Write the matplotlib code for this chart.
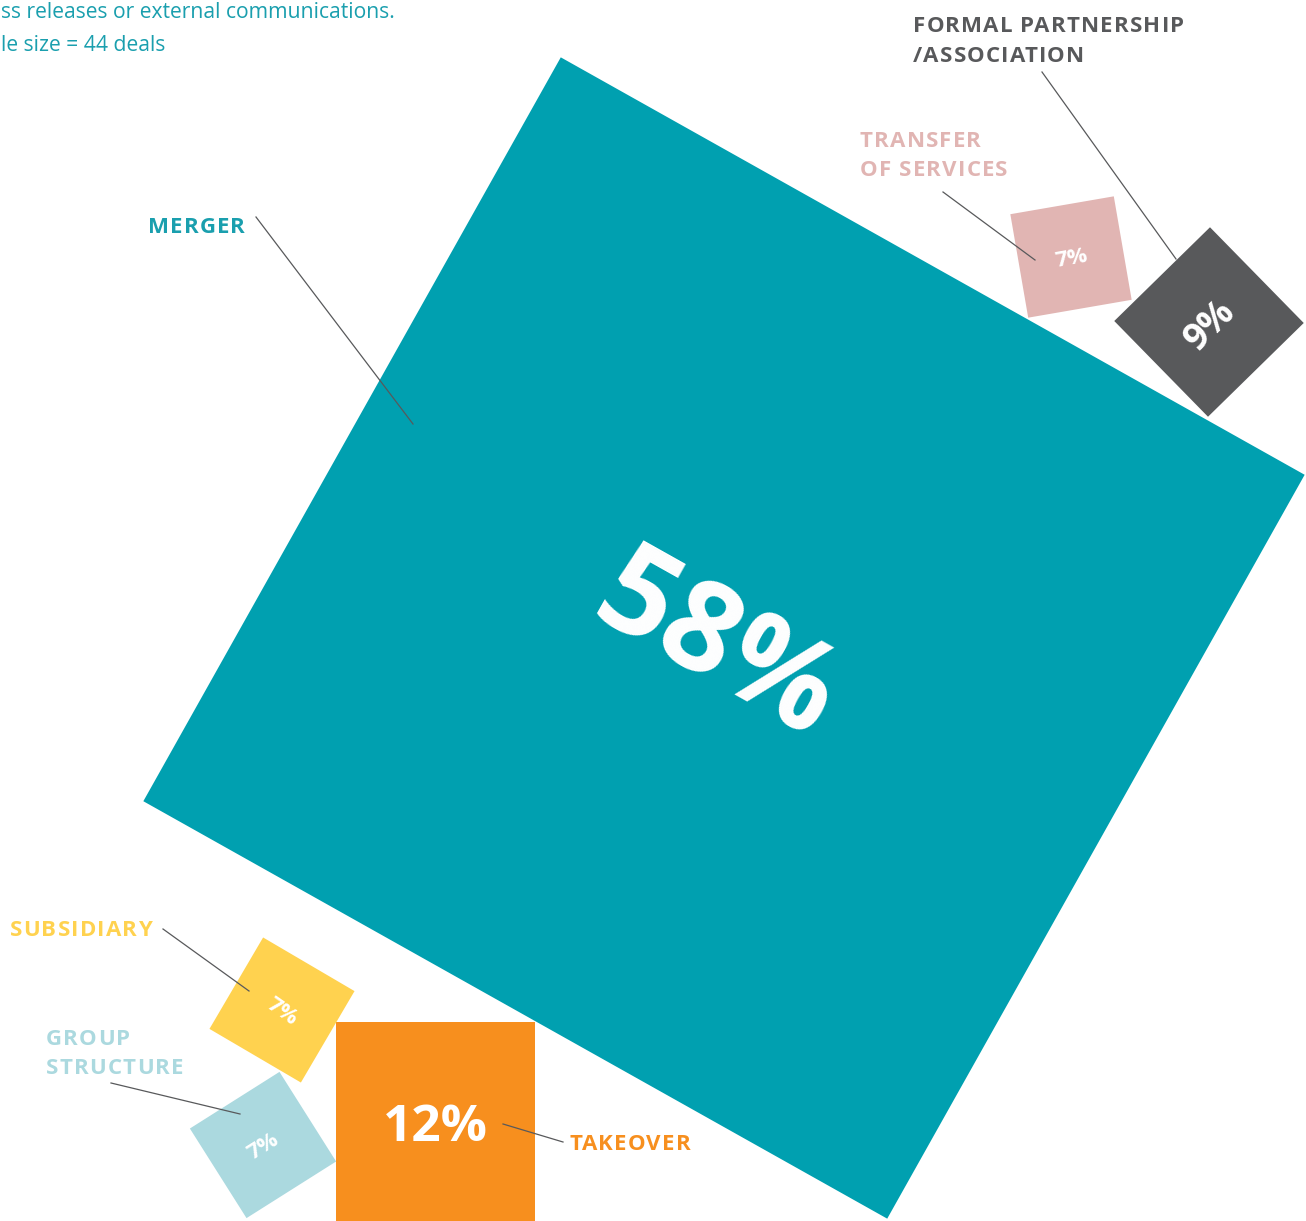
import matplotlib.pyplot as plt
import numpy as np

# deal types and their share of deals (%)
categories = ['MERGER', 'TAKEOVER', 'FORMAL PARTNERSHIP\n/ASSOCIATION',
              'TRANSFER\nOF SERVICES', 'SUBSIDIARY', 'GROUP\nSTRUCTURE']
shares = [58, 12, 9, 7, 7, 7]
colors = ['#00A0B0', '#F78F1E', '#58595B', '#E1B5B3', '#FFD24F', '#ABD9DF']
label_colors = ['#1A9FAE', '#F78F1E', '#58595B', '#E1B5B3', '#FFD24F', '#ABD9DF']
note_lines = ['ss releases or external communications.', 'le size = 44 deals']

# layout (pixel space, y pointing down)
centers = [(724, 638), (435.5, 1121.5), (1209, 322), (1071, 257), (282, 1010), (263, 1145)]
sides = [853, 199, 134, 105, 106, 106]
angles = [29.3, 0, 45.6, -9.8, 30.4, -32.3]          # clockwise, degrees
text_xy = [(716, 650), (435, 1128), (1210, 325), (1071, 259), (282, 1012), (263, 1147)]
text_rot = [-29.3, 0, 45, 10, -35, 32]
text_size = [90, 37, 27, 16, 16, 16]
label_xy = [(148, 233), (569, 1150), (913, 32), (860, 147), (10, 936), (46, 1045)]
leaders = [((256, 217), (413, 424)), ((503, 1124), (563, 1142)),
           ((1042, 72), (1176, 259)), ((943, 192), (1035, 260)),
           ((163, 929), (249, 991)), ((111, 1083), (240, 1114))]

plt.rcParams['font.family'] = ['Open Sans', 'DejaVu Sans']

fig = plt.figure(figsize=(13.06, 12.21), dpi=100)
ax = fig.add_axes([0, 0, 1, 1])
ax.set_xlim(0, 1306)
ax.set_ylim(1221, 0)
ax.axis('off')
renderer = fig.canvas.get_renderer()


def square(c, s, a):
    t = np.radians(a)
    rot = np.array([[np.cos(t), -np.sin(t)], [np.sin(t), np.cos(t)]])
    pts = np.array([[-1, -1], [1, -1], [1, 1], [-1, 1]]) * s / 2
    return pts @ rot.T + np.array(c)


def tracked_text(x, y, s, spacing, **kw):
    # letter-spaced text: each glyph placed at the right edge of its prefix
    probe = ax.text(0, 0, '', **kw)
    for k, ch in enumerate(s):
        if ch == ' ':
            continue
        probe.set_text(s[:k + 1])
        w = probe.get_window_extent(renderer).width
        ax.text(x + w + k * spacing, y, ch, ha='right', va='baseline', **kw)
    probe.remove()


for i, cat in enumerate(categories):
    ax.fill(*square(centers[i], sides[i], angles[i]).T, color=colors[i], lw=0, zorder=1)
    ax.text(text_xy[i][0], text_xy[i][1], f'{shares[i]}%', color='white',
            fontsize=text_size[i], fontweight='bold', rotation=text_rot[i],
            rotation_mode='anchor', ha='center', va='center', zorder=3)
    (x0, y0), (x1, y1) = leaders[i]
    ax.plot([x0, x1], [y0, y1], color='#58595B', lw=0.9, zorder=2)
    lx, ly = label_xy[i]
    for j, line in enumerate(cat.split('\n')):
        tracked_text(lx, ly + j * 29.5, line, 1.15, color=label_colors[i],
                     fontsize=16, fontweight='bold', zorder=3)

ax.text(1, 18, note_lines[0], color='#1A9FAE', fontsize=15.2, ha='left', va='baseline')
ax.text(1, 51, note_lines[1], color='#1A9FAE', fontsize=15.2, ha='left', va='baseline')

plt.savefig('out.png', dpi=100)
